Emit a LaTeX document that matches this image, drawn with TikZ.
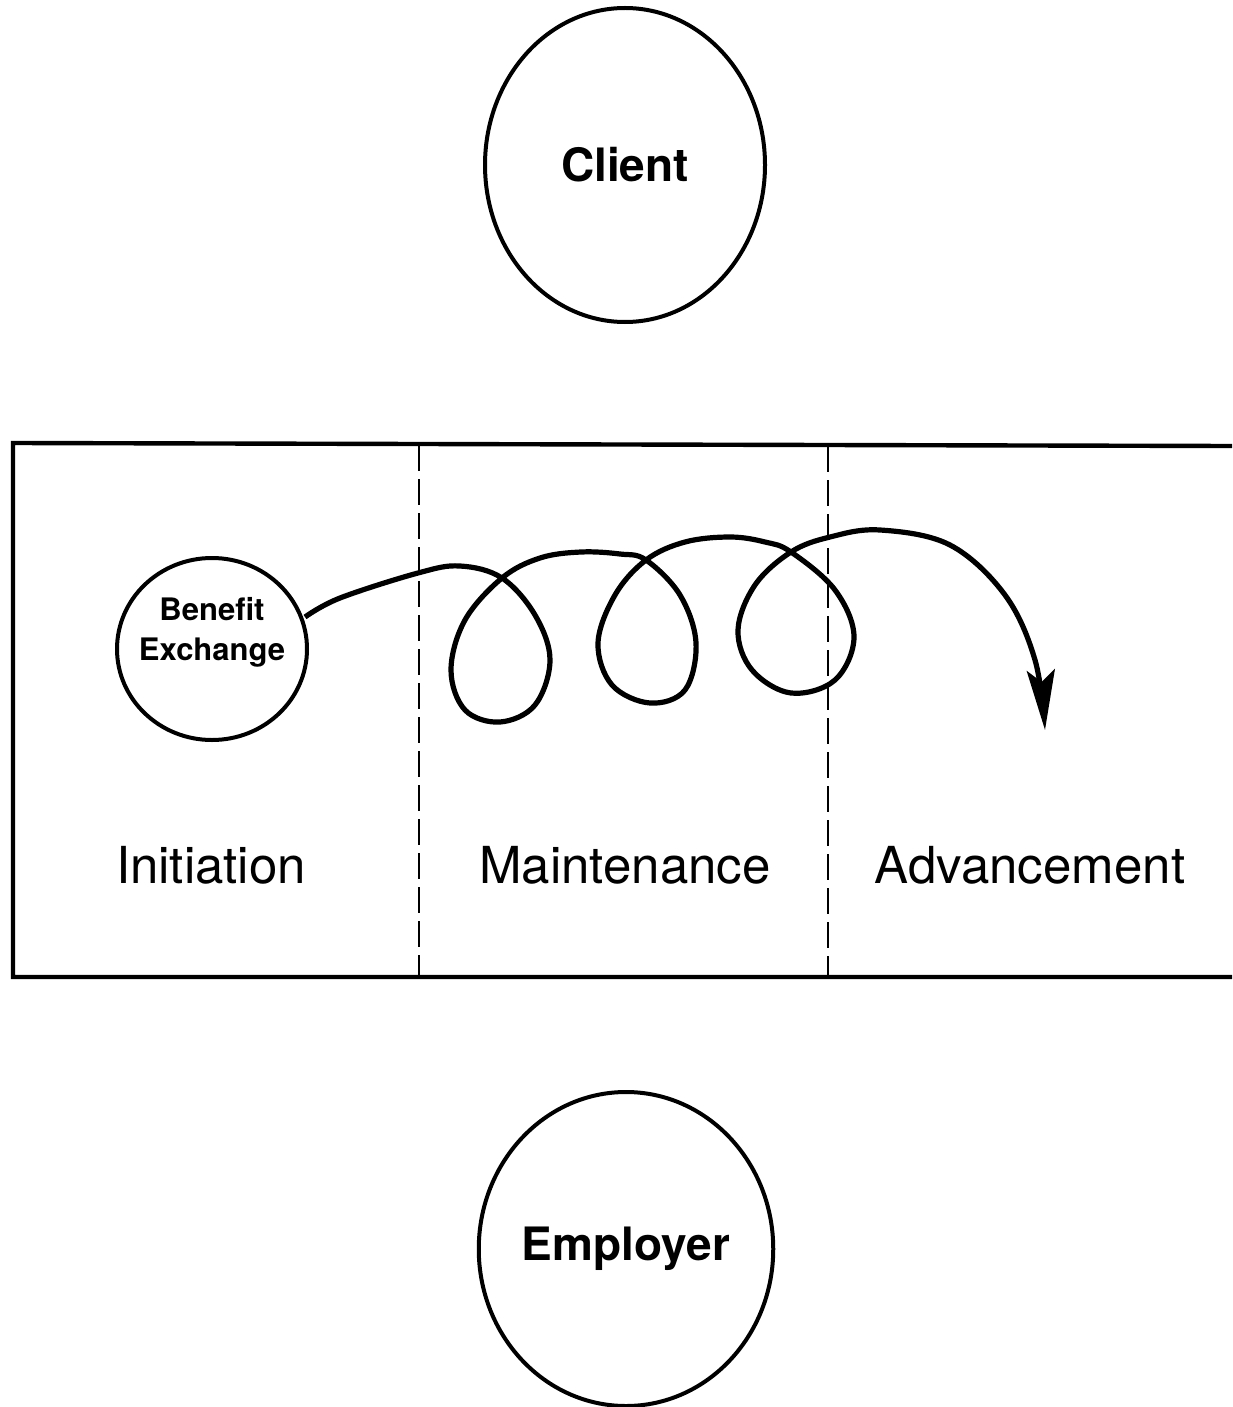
\documentclass[tikz,border=0pt]{standalone}
\usepackage{fontspec}
\setmainfont{TeX Gyre Heros}
\usetikzlibrary{arrows.meta,shapes.geometric}
\tikzset{
  party/.style={ellipse, draw, line width=2pt, inner sep=0pt},
  partytext/.style={font=\fontsize{23}{27}\selectfont\bfseries},
  phase/.style={font=\fontsize{25.5}{30}\selectfont},
  divider/.style={line width=1.3pt, dash pattern=on 13pt off 4pt},
  frame/.style={line width=2.2pt},
  spiral/.style={line width=2.6pt, line join=round, -{Stealth[length=30pt, width=14pt, inset=6pt]}}
}
\begin{document}
\begin{tikzpicture}[x=0.5pt,y=-0.5pt]
\useasboundingbox (0,0) rectangle (1232,1407);
\fill[white] (0,0) rectangle (1232,1407);

% parties
\node[party, minimum width=140pt, minimum height=157pt, partytext] (client) at (625,165) {Client};
\node[party, minimum width=141pt, minimum height=157pt, partytext] (employer) at (626,1249) {Employer};

% frame with phases
\draw[frame] (1232,446) -- (13,443) -- (13,977) -- (1232,977);
\draw[divider] (419,445) -- (419,977);
\draw[divider] (828,446) -- (828,977);

\node[phase] (init) at (211,865) {Initiation};
\node[phase] (maint) at (625,865) {Maintenance};
\node[phase] (adv) at (1030,865) {Advancement};

% benefit exchange
\node[party, minimum width=95pt, minimum height=91pt] (benefit) at (212,649) {};
\node[align=center, font=\fontsize{15.5}{20}\selectfont\bfseries] (benefittext) at (212,632) {Benefit\\Exchange};

\coordinate (start) at (305,617);
\coordinate (tip) at (1045,730);
\draw[spiral] plot[smooth, tension=0.6] coordinates {
 (start) (340,598) (418,573) (460,566) (502,578)
 (535,615) (550,660) (535,705) (500,722) (465,710) (451,670) (465,620)
 (502,578) (540,558) (581,552) (620,554) (646,560)
 (680,595) (696,643) (685,690) (650,703) (612,685) (598,643) (615,595)
 (646,560) (685,542) (730,537) (765,542) (791,552)
 (835,590) (854,637) (835,680) (791,693) (752,670) (738,630) (755,585)
 (791,552) (830,537) (880,530) (950,545) (1005,595) (1035,660) (tip)};
\end{tikzpicture}
\end{document}
